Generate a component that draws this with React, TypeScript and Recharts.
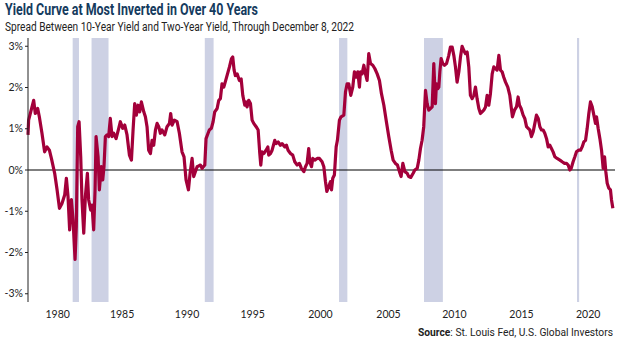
import { LineChart, Line, XAxis, YAxis, ReferenceArea, ReferenceLine } from 'recharts';

// decimal year of each reading
const YEARS = [
  1976.45, 1976.5, 1976.9, 1977.03, 1977.22, 1977.35, 1977.56, 1977.77, 1977.96, 1978.15,
  1978.31, 1978.57, 1978.76, 1978.95, 1979.15, 1979.37, 1979.5, 1979.63, 1979.76, 1979.9,
  1980.03, 1980.19, 1980.29, 1980.4, 1980.51, 1980.64, 1980.74, 1980.88, 1981.01, 1981.17,
  1981.27, 1981.43, 1981.54, 1981.67, 1981.78, 1981.86, 1982.02, 1982.12, 1982.28, 1982.39,
  1982.49, 1982.6, 1982.73, 1982.86, 1982.99, 1983.13, 1983.26, 1983.45, 1983.66, 1983.79,
  1983.98, 1984.14, 1984.32, 1984.51, 1984.67, 1984.8, 1984.93, 1985.06, 1985.2, 1985.33,
  1985.46, 1985.65, 1985.78, 1985.91, 1986.04, 1986.18, 1986.31, 1986.44, 1986.58, 1986.71,
  1986.84, 1986.97, 1987.1, 1987.32, 1987.5, 1987.69, 1987.79, 1987.9, 1988.08, 1988.3,
  1988.48, 1988.69, 1988.85, 1989.01, 1989.2, 1989.33, 1989.49, 1989.62, 1989.75, 1989.89,
  1990.02, 1990.15, 1990.28, 1990.5, 1990.6, 1990.76, 1990.86, 1991.02, 1991.16, 1991.29,
  1991.48, 1991.61, 1991.74, 1991.87, 1992.01, 1992.14, 1992.35, 1992.46, 1992.62, 1992.72,
  1992.83, 1992.93, 1993.07, 1993.25, 1993.39, 1993.52, 1993.68, 1993.78, 1993.86, 1993.99,
  1994.13, 1994.26, 1994.39, 1994.58, 1994.74, 1994.87, 1994.95, 1995.05, 1995.19, 1995.37,
  1995.51, 1995.58, 1995.72, 1995.85, 1996.06, 1996.17, 1996.33, 1996.51, 1996.64, 1996.86,
  1996.99, 1997.12, 1997.31, 1997.49, 1997.65, 1997.84, 1998.02, 1998.18, 1998.37, 1998.5,
  1998.63, 1998.76, 1998.84, 1998.98, 1999.08, 1999.24, 1999.43, 1999.61, 1999.82, 1999.96,
  2000.09, 2000.2, 2000.35, 2000.49, 2000.57, 2000.67, 2000.8, 2000.94, 2001.04, 2001.2,
  2001.33, 2001.55, 2001.68, 2001.81, 2001.94, 2002.1, 2002.26, 2002.39, 2002.53, 2002.66,
  2002.79, 2002.87, 2003.0, 2003.14, 2003.27, 2003.4, 2003.53, 2003.67, 2003.85, 2004.01,
  2004.2, 2004.38, 2004.54, 2004.73, 2004.91, 2005.12, 2005.31, 2005.47, 2005.65, 2005.81,
  2005.97, 2006.1, 2006.24, 2006.4, 2006.58, 2006.71, 2006.87, 2007.06, 2007.19, 2007.38,
  2007.51, 2007.64, 2007.77, 2007.9, 2008.04, 2008.17, 2008.3, 2008.43, 2008.57, 2008.7,
  2008.83, 2008.91, 2009.02, 2009.1, 2009.18, 2009.28, 2009.41, 2009.55, 2009.71, 2009.89,
  2010.02, 2010.16, 2010.29, 2010.42, 2010.55, 2010.69, 2010.82, 2010.95, 2011.08, 2011.22,
  2011.35, 2011.48, 2011.61, 2011.75, 2011.88, 2012.01, 2012.14, 2012.28, 2012.41, 2012.54,
  2012.67, 2012.81, 2012.94, 2013.07, 2013.2, 2013.34, 2013.47, 2013.6, 2013.73, 2013.87,
  2014.0, 2014.13, 2014.26, 2014.4, 2014.58, 2014.74, 2014.85, 2014.95, 2015.11, 2015.27,
  2015.4, 2015.51, 2015.64, 2015.8, 2015.93, 2016.07, 2016.2, 2016.33, 2016.46, 2016.6,
  2016.73, 2016.86, 2017.0, 2017.13, 2017.26, 2017.39, 2017.52, 2017.66, 2017.79, 2017.92,
  2018.05, 2018.18, 2018.32, 2018.5, 2018.72, 2018.9, 2019.09, 2019.25, 2019.38, 2019.51,
  2019.62, 2019.77, 2019.91, 2020.04, 2020.2, 2020.36, 2020.49, 2020.62, 2020.76, 2020.89,
  2021.02, 2021.15, 2021.29, 2021.42, 2021.55, 2021.63, 2021.76, 2021.9, 2022.03, 2022.16,
  2022.27, 2022.37, 2022.48, 2022.61, 2022.74, 2022.82, 2022.93,
];

// 10-year minus 2-year yield, percent
const SPREAD = [
  0.85, 1.21, 1.69, 1.37, 1.49, 1.29, 0.89, 0.44, 0.56, 0.48,
  0.28, -0.08, -0.48, -0.93, -0.81, -0.6, -0.2, -0.64, -1.45, -0.72,
  -1.21, -2.17, -1.37, 1.05, 1.17, 0.32, -0.72, -1.53, -0.64, -0.08,
  -0.72, -0.97, -0.85, -1.45, -0.48, 0.81, 0.32, -0.48, 0.08, -0.24,
  0.08, 0.81, 0.85, 0.81, 1.25, 0.81, 0.89, 0.76, 1.01, 1.17,
  1.01, 1.09, 0.85, 0.36, 0.24, 0.97, 1.61, 1.33, 1.57, 1.41,
  1.65, 1.41, 1.29, 1.05, 0.48, 0.4, 0.72, 0.6, 0.97, 1.13,
  1.05, 0.89, 0.97, 0.85, 1.05, 1.13, 1.37, 1.09, 1.21, 1.17,
  0.89, 0.44, 0.32, -0.24, -0.48, -0.08, 0.28, -0.16, -0.04, 0.08,
  0.1, 0.12, 0.04, 0.12, 0.76, 0.89, 0.97, 1.01, 1.17, 1.41,
  1.49, 1.69, 1.73, 2.09, 2.01, 2.15, 2.38, 2.5, 2.7, 2.74,
  2.42, 2.29, 2.33, 2.17, 2.21, 1.81, 1.57, 1.65, 1.53, 1.69,
  1.61, 1.21, 1.13, 1.05, 0.97, 0.4, 0.12, 0.44, 0.4, 0.48,
  0.56, 0.36, 0.4, 0.48, 0.72, 0.64, 0.68, 0.6, 0.64, 0.56,
  0.6, 0.48, 0.4, 0.36, 0.2, 0.12, 0.16, 0.04, -0.04, 0.08,
  0.16, 0.52, 0.2, 0.08, 0.28, 0.24, 0.28, 0.28, 0.2, 0.08,
  -0.28, -0.52, -0.4, -0.28, -0.48, -0.2, -0.12, 0.56, 0.72, 1.21,
  1.29, 1.33, 1.89, 2.09, 2.09, 1.81, 2.01, 2.38, 2.25, 2.38,
  2.01, 2.38, 2.33, 2.54, 2.33, 2.17, 2.82, 2.58, 2.54, 2.46,
  2.33, 2.17, 1.85, 1.57, 1.21, 0.81, 0.48, 0.24, 0.16, 0.12,
  -0.04, -0.16, 0.16, -0.04, -0.08, -0.16, -0.18, -0.08, 0.0, 0.04,
  0.24, 0.52, 0.72, 1.05, 1.93, 1.61, 1.45, 1.49, 1.53, 2.58,
  1.61, 2.09, 1.97, 2.01, 2.38, 2.7, 2.58, 2.54, 2.58, 2.78,
  2.98, 2.98, 2.78, 2.5, 2.13, 2.38, 2.74, 3.0, 2.9, 2.82,
  2.86, 2.5, 1.81, 1.73, 1.81, 2.01, 1.73, 1.49, 1.37, 1.41,
  1.45, 1.53, 1.81, 1.57, 1.85, 2.33, 2.5, 2.46, 2.42, 2.78,
  2.42, 2.38, 2.25, 2.13, 2.01, 1.81, 1.53, 1.29, 1.45, 1.53,
  1.77, 1.57, 1.49, 1.33, 1.25, 1.05, 1.01, 0.97, 0.81, 0.93,
  1.13, 1.33, 1.25, 1.05, 0.97, 0.97, 0.89, 0.76, 0.56, 0.6,
  0.52, 0.44, 0.32, 0.28, 0.24, 0.2, 0.16, 0.16, 0.12, 0.0,
  0.04, 0.2, 0.32, 0.44, 0.48, 0.48, 0.56, 0.68, 0.72, 1.01,
  1.37, 1.65, 1.53, 1.33, 1.13, 1.29, 1.01, 0.76, 0.48, 0.04,
  0.32, -0.04, -0.32, -0.44, -0.48, -0.72, -0.93,
];

// NBER recessions
const RECESSIONS = [
  [1980.0, 1980.5],
  [1981.5, 1982.85],
  [1990.5, 1991.2],
  [2001.17, 2001.83],
  [2007.92, 2009.42],
  [2020.08, 2020.25],
];

const X_LABELS = ['1980', '1985', '1990', '1995', '2000', '2005', '2010', '2015', '2020'];
// where the original chart prints each year label
const X_LABEL_AT = [1978.81, 1983.93, 1989.09, 1994.31, 1999.69, 2005.1, 2010.34, 2015.67, 2020.97];
const Y_TICKS = [-3, -2, -1, 0, 1, 2, 3];

const data = YEARS.map((t, i) => ({ t, v: SPREAD[i] }));

const LINE = '#a3003a';
const BAND = '#cdd1e4';
const NAVY = '#153b5e';

export default function App() {
  return (
    <div style={{ position: 'relative', width: 617, height: 341, background: '#fff' }}>
      <style>{`body{margin:0}`}</style>
      <LineChart width={617} height={341} data={data} margin={{ top: 38, right: 2, bottom: 19, left: 0 }}>
        {RECESSIONS.map(([a, b]) => (
          <ReferenceArea key={a} x1={a} x2={b} fill={BAND} fillOpacity={1} stroke="none" />
        ))}
        <XAxis
          dataKey="t"
          type="number"
          domain={[1976.45, 2023.1]}
          ticks={X_LABEL_AT}
          interval={0}
          tickFormatter={(val: number) => X_LABELS[X_LABEL_AT.indexOf(val)] ?? ''}
          axisLine={false}
          tickLine={false}
          tickMargin={3}
          height={20}
          tick={{ fontSize: 10.5, fill: '#222', fontFamily: 'Lato' }}
        />
        <YAxis
          type="number"
          domain={[-3.2, 3.2]}
          ticks={Y_TICKS}
          interval={0}
          width={28}
          tickFormatter={(val: number) => `${val}%`}
          axisLine={{ stroke: '#222' }}
          tickLine={{ stroke: '#222' }}
          tickSize={3}
          tickMargin={2}
          tick={{ fontSize: 10.5, fill: '#222', fontFamily: 'Lato' }}
        />
        <ReferenceLine y={0} stroke="#000" strokeWidth={1.2} />
        <Line
          type="linear"
          dataKey="v"
          stroke={LINE}
          strokeWidth={3.2}
          dot={false}
          isAnimationActive={false}
          strokeLinejoin="round"
        />
      </LineChart>
      <svg width={617} height={341} style={{ position: 'absolute', left: 0, top: 0, pointerEvents: 'none' }}>
        <text x={5} y={15} fontFamily="Roboto" fontWeight={700} fontSize={16} fill={NAVY} textLength={253} lengthAdjust="spacingAndGlyphs">
          Yield Curve at Most Inverted in Over 40 Years
        </text>
        <text x={5} y={30.5} fontFamily="Roboto" fontSize={12} fill="#222" textLength={349} lengthAdjust="spacingAndGlyphs">
          Spread Between 10-Year Yield and Two-Year Yield, Through December 8, 2022
        </text>
        <text x={418} y={336} fontFamily="Roboto" fontSize={10.5} fill="#222" textLength={195} lengthAdjust="spacingAndGlyphs">
          <tspan fontWeight={700}>Source</tspan>: St. Louis Fed, U.S. Global Investors
        </text>
      </svg>
    </div>
  );
}
